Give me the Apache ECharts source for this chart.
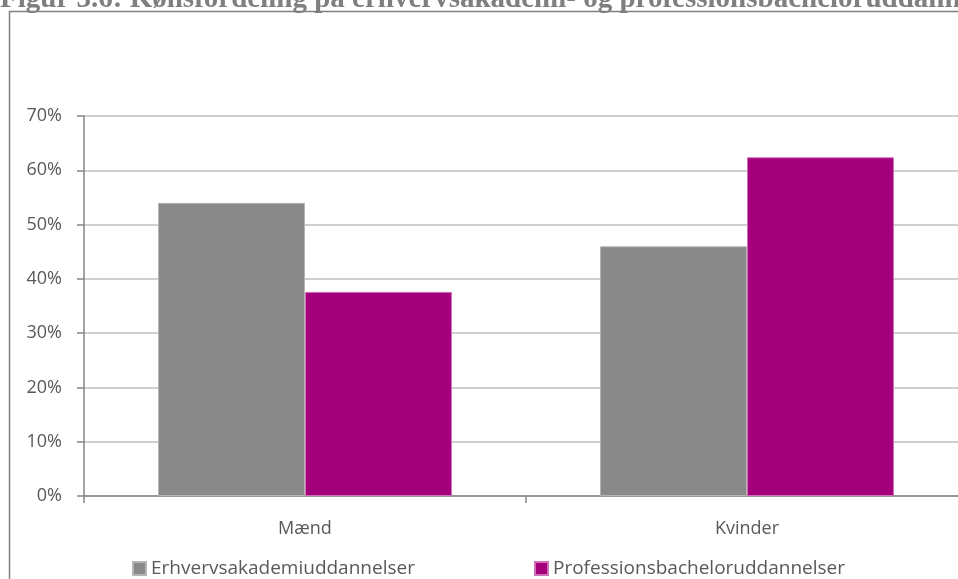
<!DOCTYPE html>
<html>
<head>
<meta charset="utf-8">
<script src="https://cdn.jsdelivr.net/npm/echarts@6/dist/echarts.min.js"></script>
<style>html,body{margin:0;padding:0;background:#fff;overflow:hidden;width:958px;height:579px}#c{width:968px;height:579px}</style>
</head>
<body>
<div id="c"></div>
<script>
var categories = ['Mænd', 'Kvinder'];
var seriesNames = ['Erhvervsakademiuddannelser', 'Professionsbacheloruddannelser'];
var erhvervValues = [54.0, 46.0];
var profValues = [37.6, 62.4];
var yTicks = [0, 10, 20, 30, 40, 50, 60, 70];
var titleText = 'Figur 3.6: Kønsfordeling på erhvervsakademi- og professionsbacheloruddannelser';

var chart = echarts.init(document.getElementById('c'), null, {renderer: 'canvas'});
var labelFont = '"Open Sans", sans-serif';
var legendText = {fontFamily: labelFont, fontSize: 19, color: '#595959'};
chart.setOption({
  animation: false,
  backgroundColor: '#ffffff',
  graphic: [
    {type: 'rect', shape: {x: 9.5, y: 11.5, width: 1000, height: 600}, style: {fill: 'none', stroke: '#808080', lineWidth: 1.5}, z: 0},
    {type: 'text', x: 0, y: 14, style: {text: titleText, font: 'bold 29px "Liberation Serif", serif', fill: '#7f7f7f', textVerticalAlign: 'bottom'}, z: 10}
  ],
  legend: [
    {data: [seriesNames[0]], left: 132, top: 559, padding: 0,
     itemWidth: 13, itemHeight: 13, icon: 'rect', textStyle: legendText},
    {data: [seriesNames[1]], left: 534, top: 559, padding: 0,
     itemWidth: 13, itemHeight: 13, icon: 'rect', textStyle: legendText}
  ],
  grid: {left: 84, right: 0, top: 116, bottom: 83, containLabel: false},
  xAxis: {
    type: 'category', data: categories,
    axisLine: {lineStyle: {color: '#868686', width: 1.5}},
    axisTick: {show: true, length: 7, lineStyle: {color: '#868686', width: 1.5}},
    axisLabel: {fontFamily: labelFont, fontSize: 18, color: '#595959', margin: 24}
  },
  yAxis: {
    type: 'value', min: 0, max: 70, interval: 10,
    axisLine: {show: true, lineStyle: {color: '#868686', width: 1.5}},
    axisTick: {show: true, length: 7, lineStyle: {color: '#868686', width: 1.5}},
    splitLine: {lineStyle: {color: '#bfbfbf', width: 1.5}},
    axisLabel: {fontFamily: labelFont, fontSize: 18, color: '#595959', margin: 22,
      formatter: function (v) { return yTicks.indexOf(v) >= 0 ? v + '%' : ''; }}
  },
  series: [
    {name: seriesNames[0], type: 'bar', data: erhvervValues, barGap: '0%', barCategoryGap: '33.5%',
     itemStyle: {color: '#898989', borderColor: '#b5b5b5', borderWidth: 1}},
    {name: seriesNames[1], type: 'bar', data: profValues, barGap: '0%', barCategoryGap: '33.5%',
     itemStyle: {color: '#a4007c', borderColor: '#d070b8', borderWidth: 1}}
  ]
});
</script>
</body>
</html>
